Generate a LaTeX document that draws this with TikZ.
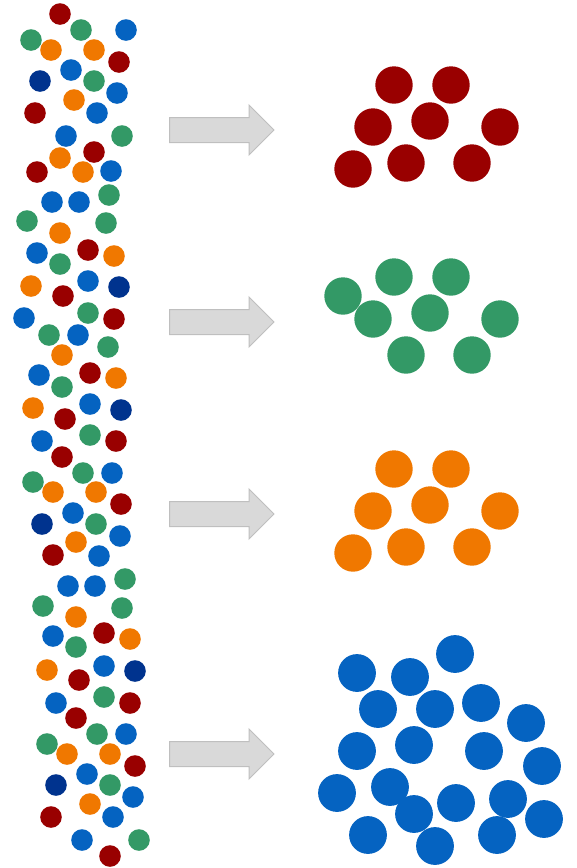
\documentclass[tikz,border=0pt]{standalone}
\definecolor{dred}{HTML}{990000}
\definecolor{dgreen}{HTML}{339966}
\definecolor{dblue}{HTML}{0563C1}
\definecolor{dorange}{HTML}{F07800}
\definecolor{dnavy}{HTML}{00338E}
\definecolor{arrfill}{HTML}{D9D9D9}
\definecolor{arrline}{HTML}{BFBFBF}
\tikzset{
  arrowshape/.style={fill=arrfill,draw=arrline,line width=1pt,line join=miter},
}
\begin{document}
\begin{tikzpicture}[x=1pt,y=-1pt]
\useasboundingbox (0,0) rectangle (577,868);
% left column of small dots
\foreach \p in {(60,14),(119,62),(35,113),(94,152),(37,172),(88,250),(63,296),(114,319),(90,373),(65,419),(116,441),(62,457),(121,504),(53,555),(104,633),(79,680),(130,703),(76,718),(135,766),(51,817),(110,856)}
  \fill[dred] \p circle[radius=10.8];
\foreach \p in {(81,30),(31,40),(94,81),(122,136),(109,195),(27,221),(106,223),(60,264),(88,313),(49,335),(108,347),(62,387),(90,435),(83,473),(33,482),(96,524),(125,579),(43,606),(122,608),(76,647),(104,697),(97,734),(47,744),(110,785),(139,840)}
  \fill[dgreen] \p circle[radius=10.8];
\foreach \p in {(126,30),(71,70),(117,93),(97,113),(66,136),(111,171),(52,202),(79,202),(37,253),(88,281),(24,318),(78,335),(39,375),(90,404),(42,441),(112,473),(73,513),(120,536),(99,556),(68,586),(95,586),(53,636),(104,666),(56,703),(126,734),(87,774),(133,797),(113,817),(82,840)}
  \fill[dblue] \p circle[radius=10.8];
\foreach \p in {(51,50),(94,50),(74,100),(60,158),(83,172),(60,233),(114,256),(31,286),(62,355),(116,378),(33,408),(53,492),(96,492),(76,542),(76,617),(130,639),(47,670),(67,754),(110,754),(90,804)}
  \fill[dorange] \p circle[radius=10.8];
\foreach \p in {(40,81),(119,287),(121,410),(42,524),(135,671),(56,785)}
  \fill[dnavy] \p circle[radius=10.8];
% block arrows
\foreach \y in {130,322,514,754}
  \draw[arrowshape] (169.5,\y-12.5) -- (249,\y-12.5) -- (249,\y-25) -- (274,\y) -- (249,\y+25) -- (249,\y+12.5) -- (169.5,\y+12.5) -- cycle;
% right clusters
\foreach \p in {(394,85),(451,85),(373,127),(430,121),(500,127),(353,169),(406,163),(472,163)}
  \fill[dred] \p circle[radius=18.7];
\foreach \p in {(394,277),(451,277),(343,296),(373,319),(430,313),(500,319),(406,355),(472,355)}
  \fill[dgreen] \p circle[radius=18.7];
\foreach \p in {(394,469),(451,469),(373,511),(430,505),(500,511),(353,553),(406,547),(472,547)}
  \fill[dorange] \p circle[radius=18.7];
\foreach \p in {(455,654),(357,673),(410,677),(378,709),(435,709),(481,703),(526,723),(357,751),(414,745),(484,751),(542,766),(337,793),(390,787),(414,814),(456,803),(508,799),(544,819),(368,835),(435,846),(497,835)}
  \fill[dblue] \p circle[radius=18.9];
\end{tikzpicture}
\end{document}
